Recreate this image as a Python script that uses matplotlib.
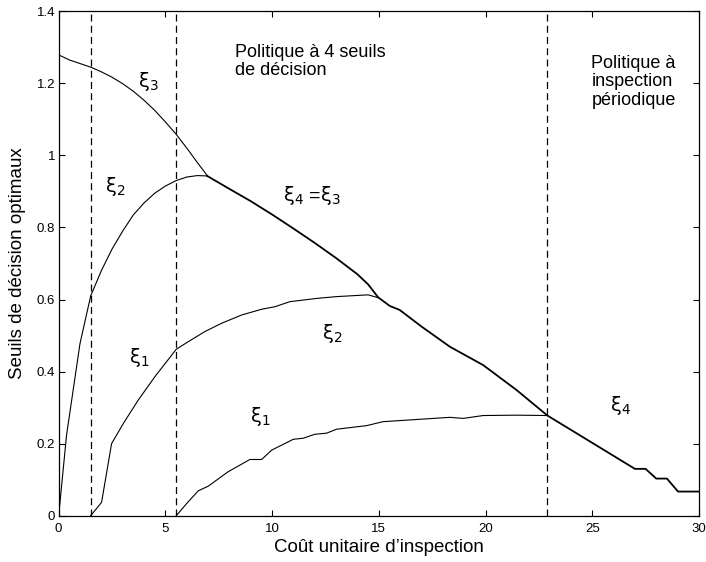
import matplotlib.pyplot as plt
from matplotlib.ticker import FormatStrFormatter

plt.rcParams['font.family'] = ['Liberation Sans', 'DejaVu Sans']
plt.rcParams['mathtext.fontset'] = 'dejavusans'

# thresholds
xi3_x = [0, 0.5, 1, 1.5, 2, 2.5, 3, 3.5, 4, 4.5, 5, 5.5, 6.07, 6.5, 6.96]
xi3_y = [1.279, 1.265, 1.255, 1.245, 1.232, 1.217, 1.199, 1.178, 1.153, 1.125,
         1.093, 1.059, 1.015, 0.98, 0.944]

xi2_up_x = [0, 0.37, 1.0, 1.5, 2, 2.5, 3, 3.5, 4, 4.5, 5, 5.5, 6, 6.5, 6.96]
xi2_up_y = [0, 0.224, 0.478, 0.61, 0.68, 0.74, 0.79, 0.835, 0.868, 0.895,
            0.915, 0.93, 0.94, 0.944, 0.943]

xi2_lo_x = [1.5, 2.01, 2.48, 3.03, 3.73, 4.51, 5.51, 6.07, 6.85, 7.63, 8.57,
            9.51, 10.13, 10.83, 12.08, 13.0, 14.5, 14.97]
xi2_lo_y = [0, 0.037, 0.2, 0.256, 0.321, 0.386, 0.462, 0.483, 0.511, 0.534,
            0.557, 0.573, 0.58, 0.594, 0.603, 0.608, 0.613, 0.605]

xi1_x = [5.51, 6.0, 6.54, 7.01, 7.94, 8.96, 9.51, 9.98, 10.99, 11.46, 12.0,
         12.55, 13.02, 14.43, 15.2, 15.99, 18.33, 18.95, 19.89, 21.45, 22.9]
xi1_y = [0, 0.034, 0.069, 0.082, 0.122, 0.156, 0.156, 0.182, 0.212, 0.215,
         0.226, 0.229, 0.24, 0.25, 0.261, 0.264, 0.273, 0.27, 0.278, 0.279,
         0.278]

xi4_x = [6.96, 8, 9, 10, 11, 12, 13, 14, 14.5, 14.97, 15.52, 15.98, 17,
         18.33, 19.89, 21.45, 22.9, 27.0, 27.5, 28.0, 28.5, 29.02, 30]
xi4_y = [0.943, 0.907, 0.873, 0.836, 0.797, 0.757, 0.715, 0.67, 0.642, 0.606,
         0.582, 0.571, 0.525, 0.469, 0.418, 0.349, 0.278, 0.13, 0.13, 0.103,
         0.103, 0.067, 0.067]

bounds = [1.5, 5.5, 22.9]

fig = plt.figure(figsize=(7.06, 5.62), dpi=100)
ax = fig.add_axes([0.0831, 0.0824, 0.9069, 0.8975])

lw = 0.8
ax.plot(xi3_x, xi3_y, color='k', lw=lw)
ax.plot(xi2_up_x, xi2_up_y, color='k', lw=lw)
ax.plot(xi2_lo_x, xi2_lo_y, color='k', lw=lw)
ax.plot(xi1_x, xi1_y, color='k', lw=lw)
ax.plot(xi4_x, xi4_y, color='k', lw=1.3)
for b in bounds:
    ax.axvline(b, color='k', lw=0.9, dashes=(5.6, 3.4))

fs = 14
ax.text(3.73, 1.204, r'$\mathrm{\xi}_3$', fontsize=fs, va='center')
ax.text(2.17, 0.915, r'$\mathrm{\xi}_2$', fontsize=fs, va='center')
ax.text(3.29, 0.439, r'$\mathrm{\xi}_1$', fontsize=fs, va='center')
ax.text(8.97, 0.275, r'$\mathrm{\xi}_1$', fontsize=fs, va='center')
ax.text(12.32, 0.507, r'$\mathrm{\xi}_2$', fontsize=fs, va='center')
ax.text(10.52, 0.89, r'$\mathrm{\xi}_4$ =$\mathrm{\xi}_3$', fontsize=fs,
        va='center')
ax.text(25.82, 0.307, r'$\mathrm{\xi}_4$', fontsize=fs, va='center')

ax.text(8.26, 1.31, 'Politique à 4 seuils\nde décision', fontsize=13,
        va='top', linespacing=1.1)
ax.text(24.96, 1.28, 'Politique à\ninspection\npériodique', fontsize=13,
        va='top', linespacing=1.15)

ax.set_xlim(0, 30)
ax.set_ylim(0, 1.4)
ax.set_xticks([0, 5, 10, 15, 20, 25, 30])
ax.set_yticks([0, 0.2, 0.4, 0.6, 0.8, 1, 1.2, 1.4])
ax.yaxis.set_major_formatter(FormatStrFormatter('%g'))
ax.tick_params(direction='in', top=True, right=True, length=4, width=0.8,
               labelsize=9.5)
ax.tick_params(axis='x', pad=5)
ax.tick_params(axis='y', pad=2.5)
for s in ax.spines.values():
    s.set_linewidth(0.9)

ax.set_xlabel('Coût unitaire d\u2019inspection', fontsize=13.5, labelpad=3.5)
ax.set_ylabel('Seuils de décision optimaux', fontsize=13.5, labelpad=8)

fig.savefig('out.png', dpi=100)
